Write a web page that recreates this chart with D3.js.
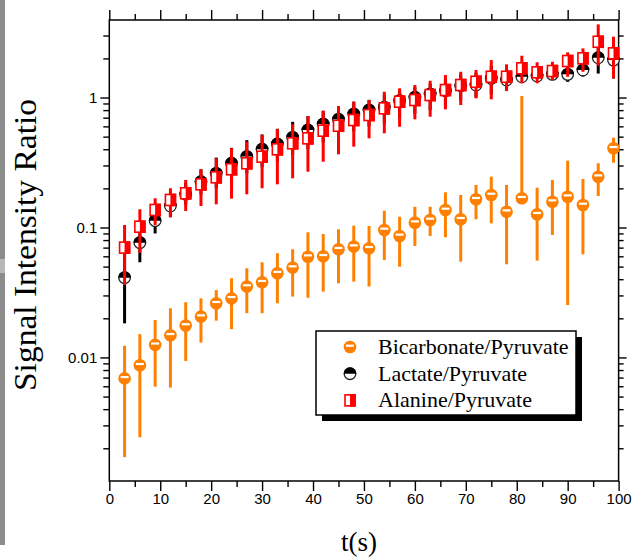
<!DOCTYPE html>
<html>
<head>
<meta charset="utf-8">
<script src="https://cdn.jsdelivr.net/npm/d3@7"></script>
<style>
  body { margin: 0; background: #fff; }
  svg { display: block; }
  .serif { font-family: "Liberation Serif", "Times New Roman", Tinos, "DejaVu Serif", serif; }
  .sans { font-family: "Liberation Sans", Arial, Arimo, "DejaVu Sans", sans-serif; }
</style>
</head>
<body>
<svg id="chart" width="633" height="558"></svg>
<script>
// data
const t = [3, 6, 9, 12, 15, 18, 21, 24, 27, 30, 33, 36, 39, 42, 45, 48, 51,
  54, 57, 60, 63, 66, 69, 72, 75, 78, 81, 84, 87, 90, 93, 96, 99];

const bicarb = [0.0069, 0.0087, 0.0125, 0.0148, 0.0176, 0.0206, 0.0261, 0.0285, 0.0351, 0.0379, 0.0445,
  0.0491, 0.0596, 0.0600, 0.0680, 0.0712, 0.0692, 0.0957, 0.0861, 0.1089, 0.1142, 0.1364,
  0.1156, 0.1648, 0.1778, 0.1323, 0.1678, 0.1264, 0.1579, 0.1726, 0.1489, 0.2460, 0.4067];
const bicarbHi = [0.0123, 0.0151, 0.0194, 0.0239, 0.0266, 0.0285, 0.0330, 0.0407, 0.0485, 0.0540, 0.0634,
  0.0680, 0.0918, 0.0891, 0.0969, 0.1033, 0.1027, 0.1346, 0.1211, 0.1445, 0.1445, 0.1866,
  0.1778, 0.2123, 0.2460, 0.2123, 1.027, 0.2023, 0.2319, 0.3266, 0.2362, 0.3119, 0.4908];
const bicarbLo = [0.00171, 0.00243, 0.00596, 0.00586, 0.0094, 0.0130, 0.0192, 0.0165, 0.0219, 0.0219, 0.0261,
  0.0294, 0.0288, 0.0321, 0.0372, 0.0383, 0.0351, 0.0562, 0.0499, 0.0721, 0.0861, 0.0841,
  0.0546, 0.1156, 0.1077, 0.0521, null, 0.0556, 0.0876, 0.0253, 0.0622, 0.1746, 0.3150];

const lact = [0.0411, 0.0764, 0.1128, 0.1463, 0.180, 0.225, 0.261, 0.312, 0.351, 0.400, 0.439,
  0.494, 0.562, 0.625, 0.680, 0.746, 0.801, 0.841, 0.945, 1.004, 1.064, 1.128,
  1.232, 1.248, 1.405, 1.364, 1.445, 1.463, 1.508, 1.508, 1.628, 2.023, 1.942];
const lactHi = [0.075, 0.105, 0.14, 0.18, 0.22, 0.28, 0.345, 0.41, 0.47, 0.52, 0.575,
  0.65, 0.72, 0.79, 0.86, 0.93, 0.96, 1.05, 1.12, 1.2, 1.28, 1.38,
  1.5, 1.55, 1.75, 1.65, 1.75, 1.7, 1.75, 1.75, 1.9, 2.5, 2.5];
const lactLo = [0.0183, 0.054, 0.090, 0.120, 0.15, 0.18, 0.2, 0.23, 0.26, 0.29, 0.32,
  0.36, 0.40, 0.45, 0.5, 0.55, 0.6, 0.63, 0.7, 0.75, 0.8, 0.85,
  0.95, 1.0, 1.05, 1.15, 1.3, 1.32, 1.37, 1.32, 1.45, 1.53, 1.40];

const ala = [0.0700, 0.1014, 0.1364, 0.1629, 0.1833, 0.2148, 0.2432, 0.2806, 0.3119, 0.3505, 0.3995,
  0.4443, 0.4853, 0.5556, 0.6067, 0.6714, 0.7334, 0.8258, 0.9285, 0.9567, 1.045, 1.142,
  1.248, 1.323, 1.445, 1.445, 1.678, 1.563, 1.599, 1.909, 2.003, 2.686, 2.188];
const alaHi = [0.1045, 0.1380, 0.1678, 0.2004, 0.2319, 0.2806, 0.3404, 0.4067, 0.4571, 0.5152, 0.5728,
  0.6223, 0.7211, 0.7914, 0.8606, 0.9285, 0.9567, 1.108, 1.177, 1.248, 1.346, 1.489,
  1.578, 1.628, 1.942, 1.800, 2.097, 1.866, 1.884, 2.228, 2.388, 3.656, 2.937];
const alaLo = [0.0361, 0.0637, 0.1045, 0.1198, 0.1340, 0.1463, 0.1508, 0.1667, 0.1800, 0.2004, 0.2148,
  0.2390, 0.2687, 0.3206, 0.3656, 0.4188, 0.4853, 0.5309, 0.5957, 0.6798, 0.7120, 0.8110,
  0.8750, 0.9863, 0.9687, 1.122, 1.286, 1.286, 1.364, 1.445, 1.578, 1.758, 1.405];

const xTicks = [0, 10, 20, 30, 40, 50, 60, 70, 80, 90, 100];
const yTicks = [0.01, 0.1, 1];
const yTickLabels = ["0.01", "0.1", "1"];
const legendNames = ["Bicarbonate/Pyruvate", "Lactate/Pyruvate", "Alanine/Pyruvate"];

const ORANGE = "#ff8000", RED = "#ff0000", BLACK = "#000";
const svg = d3.select("#chart");

// grey strip on the left edge of the picture
svg.append("rect").attr("x", 0).attr("y", 0).attr("width", 5).attr("height", 545).attr("fill", "#8c8c8c");
svg.append("rect").attr("x", 0).attr("y", 259).attr("width", 5).attr("height", 14).attr("fill", "#b8b8b8");

const x = d3.scaleLinear().domain([0, 100]).range([109.3, 618.6]);
const y = d3.scaleLog().domain([0.00112, 3.95]).range([481, 20]);

const xMinor = d3.range(5, 100, 10);
const yMinor = [];
[0.001, 0.01, 0.1, 1].forEach(d => d3.range(2, 10).forEach(k => {
  const v = d * k;
  if (v > y.domain()[0] && v < y.domain()[1]) yMinor.push(v);
}));

function axis(gen, tr, values, size, labels) {
  const g = svg.append("g").attr("transform", tr)
    .call(gen.tickValues(values).tickSize(size).tickSizeOuter(0).tickPadding(labels ? 2 : 0)
      .tickFormat(labels ? labels : () => ""));
  g.attr("font-family", null).attr("font-size", null);
  g.select(".domain").remove();
  g.selectAll("line").attr("stroke", "#000").attr("stroke-width", 1.4);
  g.selectAll("text").attr("class", "sans").style("font-size", "15px").attr("fill", "#000");
  return g;
}
const [x0, x1] = x.range(), [yb, yt] = y.range();
axis(d3.axisBottom(x), `translate(0,${yb})`, xTicks, 10, d => d);
axis(d3.axisBottom(x), `translate(0,${yb})`, xMinor, 6, null);
axis(d3.axisTop(x), `translate(0,${yt})`, xTicks, 10, null);
axis(d3.axisTop(x), `translate(0,${yt})`, xMinor, 6, null);
axis(d3.axisLeft(y), `translate(${x0},0)`, yTicks, 9, (d, i) => yTickLabels[i]).selectAll("text").attr("dx", -1);
axis(d3.axisLeft(y), `translate(${x0},0)`, yMinor, 6, null);
axis(d3.axisRight(y), `translate(${x1},0)`, yTicks, 8, null);
axis(d3.axisRight(y), `translate(${x1},0)`, yMinor, 5, null);

svg.append("rect").attr("x", x0).attr("y", yt).attr("width", x1 - x0).attr("height", yb - yt)
  .attr("fill", "none").attr("stroke", "#000").attr("stroke-width", 1.5);

// markers
function orangeMark(g) {
  g.append("circle").attr("r", 6.3).attr("fill", ORANGE);
  g.append("rect").attr("x", -4).attr("y", -2.4).attr("width", 8).attr("height", 2.2).attr("fill", "#fff");
}
function blackMark(g) {
  g.append("circle").attr("r", 5.8).attr("fill", "#fff").attr("stroke", "#222").attr("stroke-width", 1.3);
  g.append("path").attr("d", d3.arc()({innerRadius: 0, outerRadius: 6.4, startAngle: -Math.PI / 2, endAngle: Math.PI / 2}))
    .attr("fill", "#000");
}
function redMark(g) {
  g.append("rect").attr("x", -5).attr("y", -5.5).attr("width", 10).attr("height", 11)
    .attr("fill", "#fff").attr("stroke", RED).attr("stroke-width", 1.6);
  g.append("rect").attr("x", 0).attr("y", -6.3).attr("width", 5.8).attr("height", 12.6).attr("fill", RED);
}

const series = [
  {v: bicarb, hi: bicarbHi, lo: bicarbLo, color: ORANGE, mark: orangeMark},
  {v: lact, hi: lactHi, lo: lactLo, color: BLACK, mark: blackMark},
  {v: ala, hi: alaHi, lo: alaLo, color: RED, mark: redMark}
];

const plot = svg.append("g");
series.forEach(s => {
  const g = plot.append("g");
  g.selectAll("line").data(t).join("line")
    .attr("x1", d => x(d)).attr("x2", d => x(d))
    .attr("y1", (d, i) => y(s.hi[i]))
    .attr("y2", (d, i) => s.lo[i] == null ? y(s.v[i]) : y(s.lo[i]))
    .attr("stroke", s.color).attr("stroke-width", 3);
  g.selectAll("g").data(t).join("g")
    .attr("transform", (d, i) => `translate(${x(d)},${y(s.v[i])})`)
    .each(function () { s.mark(d3.select(this)); });
});

// legend
const lg = svg.append("g");
lg.append("rect").attr("x", 322).attr("y", 337).attr("width", 260).attr("height", 84).attr("fill", "#000");
lg.append("rect").attr("x", 316).attr("y", 331).attr("width", 260).attr("height", 84)
  .attr("fill", "#fff").attr("stroke", "#000").attr("stroke-width", 1.5);
series.forEach((s, i) => {
  const yy = 347 + i * 26.7;
  s.mark(lg.append("g").attr("transform", `translate(350,${yy})`));
  lg.append("text").attr("class", "serif").attr("x", 378).attr("y", yy + 7)
    .style("font-size", "22px").text(legendNames[i]);
});

// axis titles
svg.append("text").attr("class", "serif").attr("x", (x0 + x1) / 2 - 5).attr("y", 551)
  .attr("text-anchor", "middle").style("font-size", "27px").text("t(s)");
svg.append("text").attr("class", "serif").attr("transform", "translate(36,245) rotate(-90)")
  .attr("text-anchor", "middle").style("font-size", "31px")
  .attr("textLength", 292).attr("lengthAdjust", "spacingAndGlyphs")
  .text("Signal Intensity Ratio");
</script>
</body>
</html>
